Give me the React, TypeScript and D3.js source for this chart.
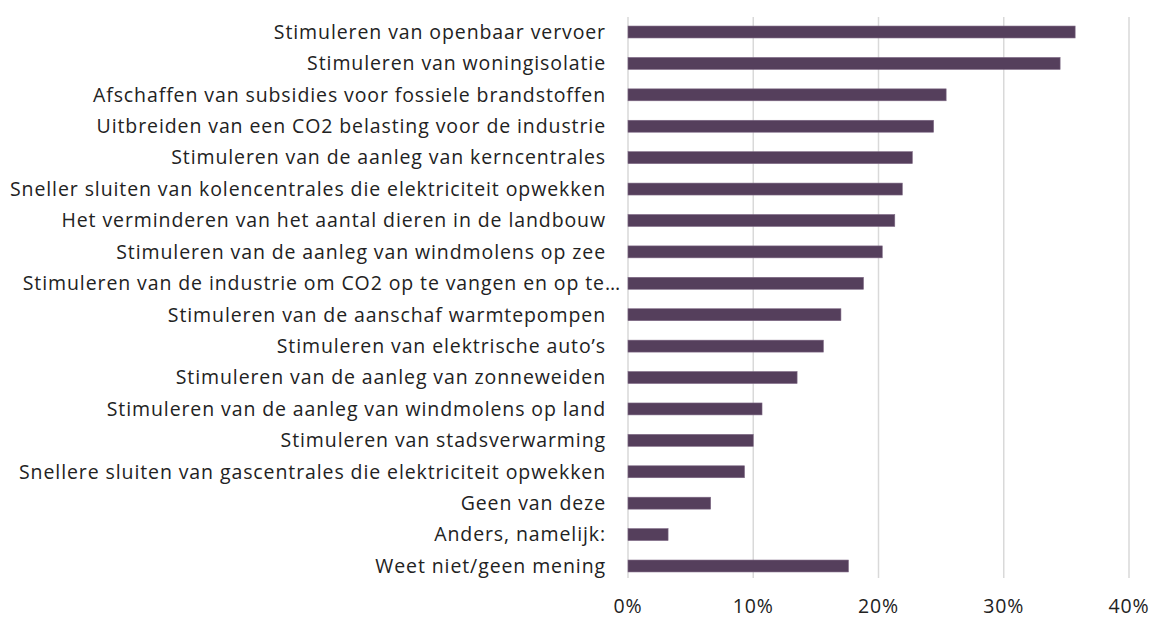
import React from "react";
import * as d3 from "d3";

const categories: string[] = [
  "Stimuleren van openbaar vervoer",
  "Stimuleren van woningisolatie",
  "Afschaffen van subsidies voor fossiele brandstoffen",
  "Uitbreiden van een CO2 belasting voor de industrie",
  "Stimuleren van de aanleg van kerncentrales",
  "Sneller sluiten van kolencentrales die elektriciteit opwekken",
  "Het verminderen van het aantal dieren in de landbouw",
  "Stimuleren van de aanleg van windmolens op zee",
  "Stimuleren van de industrie om CO2 op te vangen en op te…",
  "Stimuleren van de aanschaf warmtepompen",
  "Stimuleren van elektrische auto’s",
  "Stimuleren van de aanleg van zonneweiden",
  "Stimuleren van de aanleg van windmolens op land",
  "Stimuleren van stadsverwarming",
  "Snellere sluiten van gascentrales die elektriciteit opwekken",
  "Geen van deze",
  "Anders, namelijk:",
  "Weet niet/geen mening",
];

const values: number[] = [
  0.357, 0.345, 0.254, 0.244, 0.227, 0.219, 0.213, 0.203, 0.188, 0.17,
  0.156, 0.135, 0.107, 0.1, 0.093, 0.066, 0.032, 0.176,
];

const tickValues: number[] = [0, 0.1, 0.2, 0.3, 0.4];

const W = 1153;
const H = 621;
const FONT = "'Open Sans', Lato, sans-serif";

export default function App() {
  const x = d3.scaleLinear().domain([0, 0.4]).range([628, 1129]);
  const y = d3
    .scaleBand<string>()
    .domain(categories)
    .range([16.3, 581.7])
    .paddingInner(0.62)
    .paddingOuter(0.31);
  const fmt = d3.format(".0%");

  return (
    <svg
      width={W}
      height={H}
      style={{ position: "absolute", left: 0, top: 0, background: "#fff" }}
    >
      <rect x={0} y={0} width={W} height={H} fill="#fff" />
      {tickValues.map((t) => (
        <line
          key={"g" + t}
          x1={x(t)}
          x2={x(t)}
          y1={17}
          y2={578}
          stroke="#d9d9d9"
          strokeWidth={1.5}
        />
      ))}
      {categories.map((c, i) => (
        <rect
          key={"b" + c}
          x={x(0)}
          y={y(c)!}
          width={x(values[i]) - x(0)}
          height={y.bandwidth()}
          fill="#553f5c"
          stroke="#7d6884"
          strokeWidth={0.6}
        />
      ))}
      {categories.map((c) => (
        <text
          key={"l" + c}
          x={c.endsWith("…") ? x(0) - 7 : x(0) - 22}
          y={y(c)! + y.bandwidth() / 2}
          dy="0.35em"
          textAnchor="end"
          fontFamily={FONT}
          fontSize={19.5}
          letterSpacing={0.9}
          fill="#222"
        >
          {c}
        </text>
      ))}
      {tickValues.map((t) => (
        <text
          key={"t" + t}
          x={x(t)}
          y={606}
          dy="0.35em"
          textAnchor="middle"
          fontFamily={FONT}
          fontSize={19.5}
          letterSpacing={0.9}
          fill="#222"
        >
          {fmt(t)}
        </text>
      ))}
    </svg>
  );
}
